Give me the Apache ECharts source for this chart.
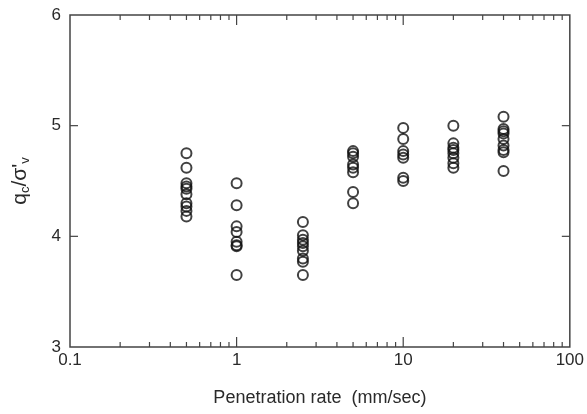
<!DOCTYPE html>
<html><head><meta charset="utf-8">
<script src="https://cdn.jsdelivr.net/npm/echarts@6/dist/echarts.min.js"></script>
<style>html,body{margin:0;padding:0;background:#fff}#c{width:587px;height:414px}</style>
</head><body><div id="c"></div>
<script>
const rates = [0.5, 1, 2.5, 5, 10, 20, 40];
const r05 = [4.75, 4.62, 4.48, 4.45, 4.43, 4.38, 4.30, 4.27, 4.23, 4.18];
const r1 = [4.48, 4.28, 4.09, 4.04, 3.95, 3.92, 3.91, 3.65];
const r25 = [4.13, 4.01, 3.97, 3.94, 3.91, 3.87, 3.80, 3.77, 3.65];
const r5 = [4.77, 4.75, 4.72, 4.65, 4.62, 4.58, 4.40, 4.30];
const r10 = [4.98, 4.88, 4.77, 4.74, 4.71, 4.53, 4.50];
const r20 = [5.00, 4.84, 4.80, 4.78, 4.75, 4.71, 4.66, 4.62];
const r40 = [5.08, 4.97, 4.95, 4.93, 4.88, 4.82, 4.78, 4.76, 4.59];
const minorTicks = [0.2,0.3,0.4,0.5,0.6,0.7,0.8,0.9,2,3,4,5,6,7,8,9,20,30,40,50,60,70,80,90];
const majorTicks = [1, 10];
const yTicks = [4, 5];

const groups = [r05, r1, r25, r5, r10, r20, r40];
const pts = [];
groups.forEach((g, i) => g.forEach(v => pts.push([rates[i], v])));

const axisColor = '#444';
const textColor = '#2a2a2a';
const font = 'Liberation Sans, Arial, sans-serif';

function tickSeries(data, len, vertical) {
  return {
    type: 'custom', silent: true, z: 1,
    data: data.map(v => [v]),
    renderItem: function (params, api) {
      const v = api.value(0);
      let a, b, c, d;
      if (vertical) {
        a = api.coord([v, 3]); b = api.coord([v, 6]);
        return { type: 'group', children: [
          { type: 'line', shape: { x1: a[0], y1: a[1], x2: a[0], y2: a[1] - len }, style: { stroke: axisColor, lineWidth: 1.2 } },
          { type: 'line', shape: { x1: b[0], y1: b[1], x2: b[0], y2: b[1] + len }, style: { stroke: axisColor, lineWidth: 1.2 } }
        ]};
      } else {
        c = api.coord([0.1, v]); d = api.coord([100, v]);
        return { type: 'group', children: [
          { type: 'line', shape: { x1: c[0], y1: c[1], x2: c[0] + len, y2: c[1] }, style: { stroke: axisColor, lineWidth: 1.2 } },
          { type: 'line', shape: { x1: d[0], y1: d[1], x2: d[0] - len, y2: d[1] }, style: { stroke: axisColor, lineWidth: 1.2 } }
        ]};
      }
    }
  };
}

const chart = echarts.init(document.getElementById('c'), null, { renderer: 'canvas' });
chart.setOption({
  animation: false,
  backgroundColor: '#fff',
  grid: { left: 70, right: 15, top: 15, bottom: 67, show: true, borderColor: axisColor, borderWidth: 1.5 },
  xAxis: {
    type: 'log', min: 0.1, max: 100, logBase: 10,
    axisLine: { show: false },
    axisTick: { show: false },
    splitLine: { show: false },
    axisLabel: { color: textColor, fontSize: 17, fontFamily: font, margin: 5 },
    name: 'Penetration rate  (mm/sec)', nameLocation: 'middle', nameGap: 42,
    nameTextStyle: { color: textColor, fontSize: 18, fontFamily: font }
  },
  yAxis: {
    type: 'value', min: 3, max: 6, interval: 1,
    axisLine: { show: false },
    axisTick: { show: false },
    splitLine: { show: false },
    axisLabel: { color: textColor, fontSize: 17, fontFamily: font, margin: 9 },
    name: '{m|q}{s|c}{m|/σ\'}{s|v}', nameLocation: 'middle', nameGap: 38, nameRotate: 90,
    nameTextStyle: {
      color: textColor, fontFamily: font,
      rich: {
        m: { fontSize: 21, fontFamily: font, color: textColor },
        s: { fontSize: 13, fontFamily: font, color: textColor, verticalAlign: 'bottom', padding: [10, 0, 0, 0] }
      }
    }
  },
  series: [
    tickSeries(minorTicks, 5, true),
    tickSeries(majorTicks, 10, true),
    tickSeries(yTicks, 8, false),
    {
      type: 'scatter', data: pts, symbol: 'circle', symbolSize: 10, z: 3,
      itemStyle: { color: 'rgba(0,0,0,0)', borderColor: '#111', borderWidth: 2 }
    }
  ]
});
</script></body></html>
